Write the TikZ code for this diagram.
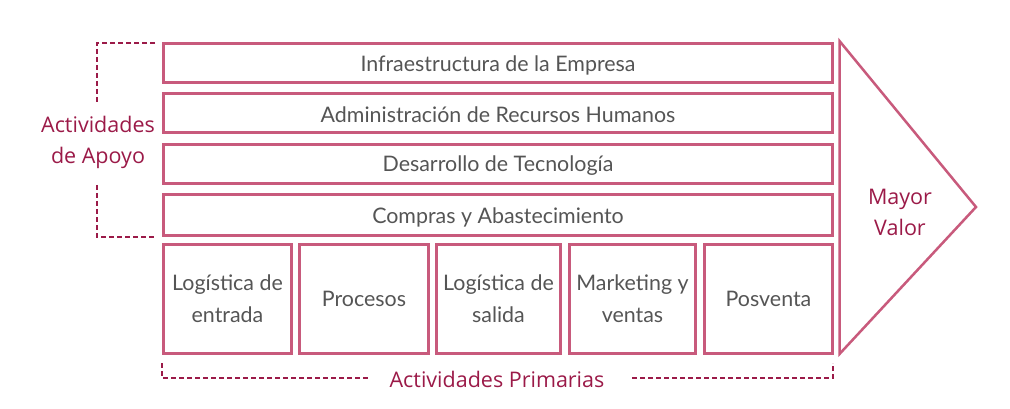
\documentclass[tikz,border=0pt]{standalone}
\usepackage{fontspec}
\setmainfont{Lato}
\newfontfamily\labelfont{Open Sans}
\definecolor{boxpink}{HTML}{C85A7C}
\definecolor{labred}{HTML}{9B1A48}
\definecolor{txtgray}{HTML}{555555}
\begin{document}
\begin{tikzpicture}[x=1pt,y=-1pt,
  bar/.style={draw=boxpink,line width=3pt,fill=white,text=txtgray,font=\fontsize{21.4}{26}\selectfont},
  prim/.style={draw=boxpink,line width=3pt,fill=white,text=txtgray,align=center,font=\fontsize{21.4}{32}\selectfont},
  lab/.style={text=labred,align=center,font=\labelfont\fontsize{21.5}{31}\selectfont},
  brk/.style={draw=labred,line width=1.5pt,dash pattern=on 5pt off 3pt}]
\useasboundingbox (0,0) rectangle (1010,409);
% support bars
\path[bar] (163.5,43.5) rectangle (832.5,82.5) node[midway,yshift=-2pt] (b1) {Infraestructura de la Empresa};
\path[bar] (163.5,93.5) rectangle (832.5,132.5) node[midway,yshift=-2pt] (b2) {Administración de Recursos Humanos};
\path[bar] (163.5,144.5) rectangle (832.5,183.5) node[midway,yshift=-2pt] (b3) {Desarrollo de Tecnología};
\path[bar] (163.5,194.5) rectangle (832.5,235.5) node[midway,yshift=-2pt] (b4) {Compras y Abastecimiento};
% primary boxes
\path[prim] (163.5,244.5) rectangle (291.5,353.5) node[midway,align=center] (p1) {Logística de\\entrada};
\path[prim] (299.5,244.5) rectangle (428.5,353.5) node[midway] (p2) {Procesos};
\path[prim] (436.5,244.5) rectangle (560.5,353.5) node[midway,align=center] (p3) {Logística de\\salida};
\path[prim] (569.5,244.5) rectangle (695.5,353.5) node[midway,align=center] (p4) {Marketing y\\ventas};
\path[prim] (704.5,244.5) rectangle (832.5,353.5) node[midway] (p5) {Posventa};
% triangle
\draw[boxpink,line width=2.5pt,line join=miter] (839.5,41) -- (976,207) -- (839.5,354) -- cycle;
\node[lab] (mv) at (900,212) {Mayor\\Valor};
% support bracket
\node[lab] (apoyo) at (98,142) {Actividades\\de Apoyo};
\coordinate (s1) at (155,43);
\coordinate (s2) at (97,43);
\coordinate (s3) at (97,102);
\coordinate (s4) at (97,185);
\coordinate (s5) at (97,237);
\coordinate (s6) at (155,237);
\draw[brk] (s1) -- (s2) -- (s3);
\draw[brk] (s4) -- (s5) -- (s6);
% primary bracket
\node[lab] (prima) at (497,379) {Actividades Primarias};
\coordinate (q1) at (162,363);
\coordinate (q2) at (162,378);
\coordinate (q3) at (368,378);
\coordinate (q4) at (632,378);
\coordinate (q5) at (833,378);
\coordinate (q6) at (833,363);
\draw[brk] (q1) -- (q2) -- (q3);
\draw[brk] (q4) -- (q5) -- (q6);
\end{tikzpicture}
\end{document}
